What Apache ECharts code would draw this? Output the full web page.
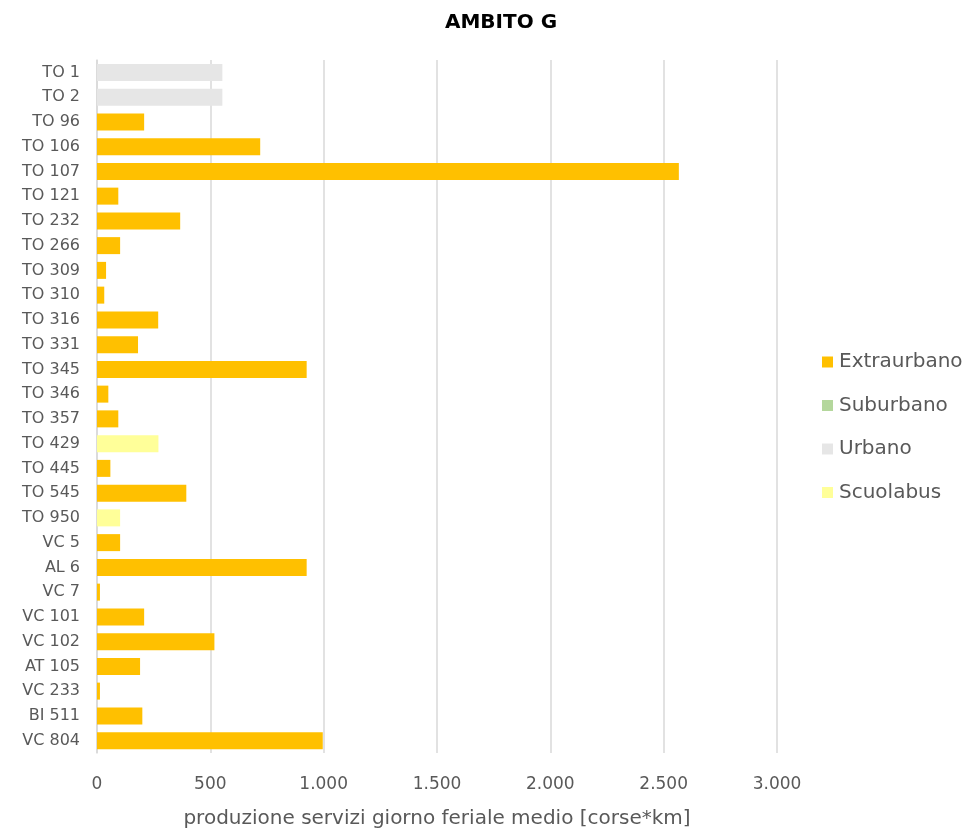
<!DOCTYPE html>
<html>
<head>
<meta charset="utf-8">
<title>AMBITO G</title>
<script src="https://cdn.jsdelivr.net/npm/echarts@6/dist/echarts.min.js"></script>
<style>
    html, body { margin: 0; padding: 0; background: #fff; }
    #chart { width: 976px; height: 834px; }
</style>
</head>
<body>
<div id="chart"></div>
<script>
    // linee (dall'alto verso il basso)
    const linee = ['TO 1', 'TO 2', 'TO 96', 'TO 106', 'TO 107', 'TO 121', 'TO 232', 'TO 266', 'TO 309', 'TO 310',
        'TO 316', 'TO 331', 'TO 345', 'TO 346', 'TO 357', 'TO 429', 'TO 445', 'TO 545', 'TO 950', 'VC 5',
        'AL 6', 'VC 7', 'VC 101', 'VC 102', 'AT 105', 'VC 233', 'BI 511', 'VC 804'];

    // produzione [corse*km] per tipo di servizio
    const extraurbano = [null, null, 208, 720, 2567, 94, 367, 102, 40, 32,
        270, 181, 925, 50, 94, null, 59, 394, null, 102,
        925, 13, 208, 518, 190, 13, 200, 996];
    const suburbano = [null, null, null, null, null, null, null, null, null, null,
        null, null, null, null, null, null, null, null, null, null,
        null, null, null, null, null, null, null, null];
    const urbano = [553, 553, null, null, null, null, null, null, null, null,
        null, null, null, null, null, null, null, null, null, null,
        null, null, null, null, null, null, null, null];
    const scuolabus = [null, null, null, null, null, null, null, null, null, null,
        null, null, null, null, null, 271, null, null, 102, null,
        null, null, null, null, null, null, null, null];

    const grigio = '#595959';
    const fontFam = '"DejaVu Sans", "Noto Sans", sans-serif';

    function formatIt(v) {
        return String(v).replace(/\B(?=(\d{3})+(?!\d))/g, '.');
    }

    function serie(nome, dati, colore) {
        return {
            name: nome,
            type: 'bar',
            stack: 'tot',
            data: dati,
            barWidth: 17,
            itemStyle: {
                color: colore
            }
        };
    }

    const chart = echarts.init(document.getElementById('chart'));
    chart.setOption({
        animation: false,
        textStyle: { fontFamily: fontFam },
        title: {
            text: 'AMBITO G',
            left: 496,
            textAlign: 'center',
            top: 8,
            textStyle: { fontSize: 20, fontWeight: 'bold', color: '#000', fontFamily: fontFam }
        },
        legend: {
            orient: 'vertical',
            left: 817,
            top: 346,
            itemWidth: 11,
            itemHeight: 11,
            itemGap: 21.5,
            icon: 'rect',
            textStyle: { fontSize: 20, lineHeight: 22, color: grigio, padding: [0, 0, 0, 1] },
            data: ['Extraurbano', 'Suburbano', 'Urbano', 'Scuolabus']
        },
        grid: {
            left: 97,
            right: 199,
            top: 60,
            bottom: 80,
            containLabel: false
        },
        xAxis: {
            type: 'value',
            min: 0,
            max: 3000,
            interval: 500,
            name: 'produzione servizi giorno feriale medio [corse*km]',
            nameLocation: 'middle',
            nameGap: 56,
            nameTextStyle: { fontSize: 20, color: grigio },
            axisLine: { show: false },
            axisTick: { show: false },
            axisLabel: {
                fontSize: 17,
                color: grigio,
                margin: 23,
                formatter: formatIt
            },
            splitLine: { lineStyle: { color: '#d9d9d9', width: 1.5 } }
        },
        yAxis: {
            type: 'category',
            inverse: true,
            data: linee,
            axisLine: { show: true, lineStyle: { color: '#d9d9d9', width: 1.5 } },
            axisTick: { show: false },
            axisLabel: { fontSize: 16, color: grigio, margin: 17 }
        },
        series: [
            serie('Extraurbano', extraurbano, '#FFC000'),
            serie('Suburbano', suburbano, '#B4D79C'),
            serie('Urbano', urbano, '#E6E6E6'),
            serie('Scuolabus', scuolabus, '#FFFF99')
        ]
    });
</script>
</body>
</html>
